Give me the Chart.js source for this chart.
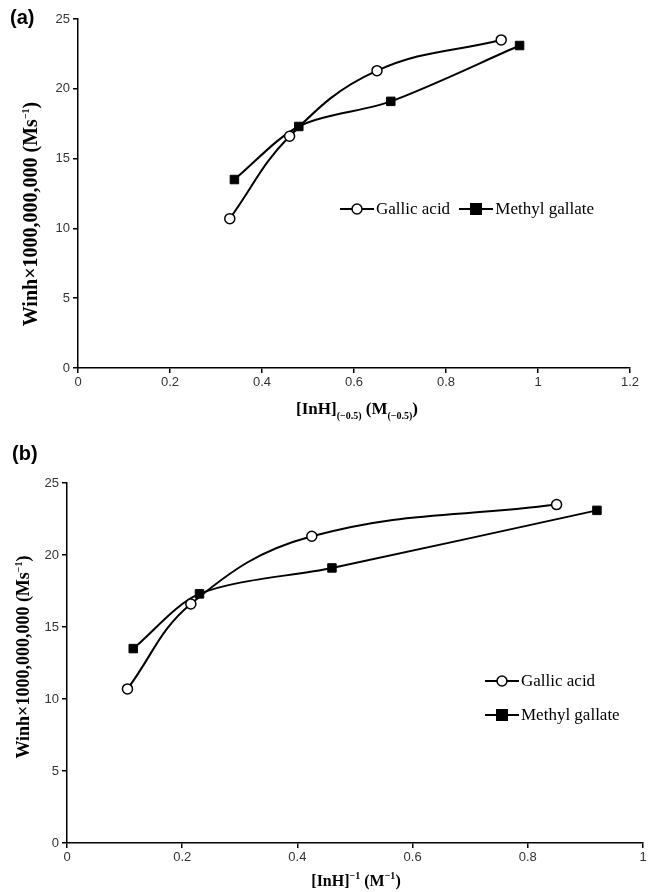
<!DOCTYPE html>
<html>
<head>
<meta charset="utf-8">
<script src="https://cdn.jsdelivr.net/npm/chart.js@4"></script>
<style>
  body { margin: 0; background: #fff; }
  #page { position: relative; width: 650px; height: 892px; overflow: hidden; }
  .box { position: absolute; left: 0; width: 650px; }
  .lbl { position: absolute; font-family: "Liberation Serif", serif; font-weight: bold; color: #000; white-space: nowrap; }
  .panel { position: absolute; font-family: "Liberation Sans", Arial, sans-serif; font-weight: bold; font-size: 20px; }
  .legend { position: absolute; font-family: "Liberation Serif", serif; font-size: 17px; color: #000; white-space: nowrap; }
  .legend span { display: inline-flex; align-items: center; }
  .legend svg { margin-right: 2px; }
  sub, sup { font-size: 10px; }
</style>
</head>
<body>
<div id="page">
  <div class="box" style="top:0;height:430px"><canvas id="chartA"></canvas></div>
  <div class="box" style="top:430px;height:462px"><canvas id="chartB"></canvas></div>

  <div class="panel" style="left:10px;top:6px">(a)</div>
  <div class="panel" style="left:12px;top:442px">(b)</div>

  <div class="lbl" style="left:30px;top:214px;font-size:20px;transform:translate(-50%,-50%) rotate(-90deg)">Winh×1000,000,000 (Ms<sup>−1</sup>)</div>
  <div class="lbl" style="left:357px;top:410px;font-size:17px;transform:translate(-50%,-50%)">[InH]<sub>(−0.5)</sub> (M<sub>(−0.5)</sub>)</div>

  <div class="lbl" style="left:23px;top:657px;font-size:18px;transform:translate(-50%,-50%) rotate(-90deg)">Winh×1000,000,000 (Ms<sup>−1</sup>)</div>
  <div class="lbl" style="left:356px;top:880px;font-size:16px;transform:translate(-50%,-50%)">[InH]<sup>−1</sup> (M<sup>−1</sup>)</div>

  <div class="legend" style="left:340px;top:199px">
    <span><svg width="34" height="14"><line x1="0" y1="7" x2="34" y2="7" stroke="#000" stroke-width="2"/><circle cx="17" cy="7" r="5" fill="#fff" stroke="#000" stroke-width="1.5"/></svg>Gallic acid</span>
    <span style="margin-left:5px"><svg width="34" height="14"><line x1="0" y1="7" x2="34" y2="7" stroke="#000" stroke-width="2"/><rect x="11" y="1" width="12" height="12" fill="#000"/></svg>Methyl gallate</span>
  </div>
  <div class="legend" style="left:485px;top:665px;line-height:32px">
    <span><svg width="34" height="14"><line x1="0" y1="7" x2="34" y2="7" stroke="#000" stroke-width="2"/><circle cx="17" cy="7" r="5" fill="#fff" stroke="#000" stroke-width="1.5"/></svg>Gallic acid</span><br>
    <span><svg width="34" height="14"><line x1="0" y1="7" x2="34" y2="7" stroke="#000" stroke-width="2"/><rect x="11" y="1" width="12" height="12" fill="#000"/></svg>Methyl gallate</span>
  </div>
</div>

<script>
// values
const seriesNames = ['Gallic acid', 'Methyl gallate'];

const gallicXa = [0.33, 0.46, 0.65, 0.92];   // [InH]^-0.5
const methylXa = [0.34, 0.48, 0.68, 0.96];
const gallicXb = [0.105, 0.215, 0.425, 0.85]; // [InH]^-1
const methylXb = [0.115, 0.23, 0.46, 0.92];

const gallicY = [10.7, 16.6, 21.3, 23.5];
const methylY = [13.5, 17.3, 19.1, 23.1];

const xTicksA = [0, 0.2, 0.4, 0.6, 0.8, 1, 1.2];
const xTicksB = [0, 0.2, 0.4, 0.6, 0.8, 1];
const yTicks = [0, 5, 10, 15, 20, 25];

function pts(xs, ys) {
    return xs.map((x, i) => ({ x: x, y: ys[i] }));
}

function makeChart(id, gx, mx, xTicks, pad, yWidth) {
    const ctx = document.getElementById(id).getContext('2d');
    const tickFont = { family: 'Liberation Sans', size: 13 };
    return new Chart(ctx, {
        type: 'scatter',
        data: {
            datasets: [{
                label: seriesNames[0],
                data: pts(gx, gallicY),
                showLine: true,
                borderColor: '#000',
                borderWidth: 2,
                tension: 0.4,
                pointStyle: 'circle',
                pointRadius: 5,
                pointBackgroundColor: '#fff',
                pointBorderColor: '#000',
                pointBorderWidth: 1.5
            },
            {
                label: seriesNames[1],
                data: pts(mx, methylY),
                showLine: true,
                borderColor: '#000',
                borderWidth: 2,
                tension: 0.3,
                pointStyle: 'rect',
                pointRadius: 6,
                pointBackgroundColor: '#000',
                pointBorderColor: '#000',
                pointBorderWidth: 1
            }]
        },
        options: {
            responsive: true,
            maintainAspectRatio: false,
            animation: false,
            layout: { padding: pad },
            plugins: {
                legend: { display: false },
                tooltip: { enabled: false }
            },
            scales: {
                x: {
                    type: 'linear',
                    min: xTicks[0],
                    max: xTicks[xTicks.length - 1],
                    afterBuildTicks: s => { s.ticks = xTicks.map(v => ({ value: v })); },
                    afterFit: s => { s.height = 30; },
                    border: { display: true, color: '#000', width: 1.5 },
                    grid: { drawOnChartArea: false, drawTicks: true, tickLength: 5, color: '#000', lineWidth: 1.5 },
                    ticks: { font: tickFont, color: '#333', padding: 2, maxRotation: 0, callback: v => String(v) }
                },
                y: {
                    type: 'linear',
                    min: yTicks[0],
                    max: yTicks[yTicks.length - 1],
                    afterBuildTicks: s => { s.ticks = yTicks.map(v => ({ value: v })); },
                    afterFit: s => { s.width = yWidth; },
                    border: { display: true, color: '#000', width: 1.5 },
                    grid: { drawOnChartArea: false, drawTicks: true, tickLength: 5, color: '#000', lineWidth: 1.5 },
                    ticks: { font: tickFont, color: '#333', padding: 3, callback: v => String(v) }
                }
            }
        }
    });
}

makeChart('chartA', gallicXa, methylXa, xTicksA, { left: 0, right: 20, top: 19, bottom: 32 }, 78);
makeChart('chartB', gallicXb, methylXb, xTicksB, { left: 0, right: 5, top: 53, bottom: 19 }, 67);
</script>
</body>
</html>
